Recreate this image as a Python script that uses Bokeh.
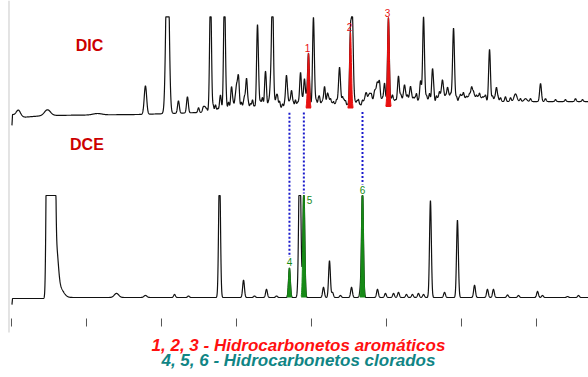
import numpy as np
from bokeh.plotting import figure
from bokeh.models import Range1d, Label
from bokeh.embed import file_html
from bokeh.resources import INLINE

# ---------------- data (retention time in min, height in % of full scale) ----------------
# DIC chromatogram (top)
dic_rt = [8.93, 10.4, 11.13, 11.73, 12.8, 13.27, 13.93, 14.2, 14.67, 15.0, 15.13, 15.67,
          16.4, 16.93, 17.27, 17.4, 17.67, 18.33, 18.67, 19.27, 19.53, 20.13, 20.87,
          21.07, 21.87, 22.73, 23.4, 23.67, 23.93, 24.2, 24.4, 24.53, 24.87, 25.8, 26.2,
          26.6, 27.27, 27.47, 28.07, 28.73, 29.07, 29.47, 30.67, 30.8, 31.87, 32.33, 35.27]
dic_h = [30, 200, 13, 17, 6, 130, 17, 130, 25, 24, 35, 33,
         89, 39, 25, 130, 14, 35, 19, 38, 31, 96, 23,
         16, 43, 92, 8, 14, 12, 16, 21, 26, 25, 32, 22,
         20, 25, 92, 37, 24, 16, 78, 15, 10, 55, 15, 19]
dic_w = [0.08, 0.1] + [0.06] * 45

dic_broad_rt = [0.47, 2.4, 5.73, 33.6, 34.27]
dic_broad_h = [7, 6, 1.5, 8, 3]
dic_broad_w = [0.15, 0.2, 0.3, 0.1, 0.1]

dic_minor_rt = [12.47, 13.0, 13.6, 14.47, 14.8, 15.33, 15.53, 15.93, 16.07, 16.6, 16.73,
                17.13, 17.87, 18.07, 18.53, 18.93, 19.07, 19.67, 20.33, 20.53, 20.67,
                21.27, 21.47, 21.67, 22.07, 22.27, 22.93, 23.13, 23.53, 23.8, 24.07,
                24.33, 24.73, 25.4, 25.6, 26.0, 26.4, 26.8, 27.0, 27.67, 27.87, 28.33,
                28.53, 28.93, 29.27, 29.67, 29.93, 30.13, 30.33, 30.53, 31.0, 31.2,
                31.4, 31.6, 32.07, 32.6, 32.93, 33.27, 33.93, 34.6, 35.6, 36.27, 36.93,
                37.6, 38.07]
dic_minor_h = [5, 4, 7, 9, 6, 8, 12, 6, 10, 8, 12,
               7, 8, 5, 7, 9, 6, 10, 8, 12, 6,
               10, 7, 9, 12, 8, 6, 9, 7, 10, 6,
               9, 8, 12, 7, 9, 11, 8, 12, 9, 11, 8,
               12, 7, 9, 6, 8, 10, 6, 8, 7, 9,
               5, 7, 6, 4, 5, 4, 3, 3, 3, 2, 2,
               3, 2]

# low-level "grass" between the main DIC peaks
dic_grass_rt = [12.9, 13.45, 13.75, 14.33, 14.9, 15.45, 15.8, 16.2, 16.5, 17.0, 17.55,
                17.75, 18.2, 18.43, 18.8, 19.15, 19.4, 19.93, 20.25, 20.45, 20.75, 21.17,
                21.37, 21.57, 21.77, 21.97, 22.17, 22.4, 22.85, 23.03, 23.25, 23.6, 23.87,
                24.0, 24.27, 24.65, 25.0, 25.3, 25.5, 25.7, 25.93, 26.1, 26.3, 26.5, 26.7,
                26.9, 27.13, 27.57, 27.77, 28.17, 28.43, 28.63, 28.83, 29.17, 29.37,
                29.57, 29.83, 30.03, 30.23, 30.43, 30.9, 31.1, 31.3, 31.5, 32.2, 32.45]
dic_grass_h = [4, 6, 3, 5, 7, 4, 5, 3, 6, 4, 5,
               7, 4, 6, 5, 3, 6, 5, 4, 7, 5, 6,
               4, 3, 6, 5, 7, 4, 5, 6, 3, 5, 4,
               6, 5, 4, 3, 6, 5, 4, 7, 5, 6, 4, 5,
               6, 4, 5, 3, 6, 4, 5, 6, 4, 5,
               3, 4, 5, 3, 4, 3, 4, 3, 4, 3, 3]

dic_base_t = [0.03, 0.07, 0.6, 2.27, 8.6, 12.6, 15.93, 19.27, 22.6, 25.93, 29.27, 32.6, 38.5]
dic_base_lvl = [-8.4, 3.0, 0.0, 2.1, 3.2, 5.3, 8.4, 9.5, 9.5, 11.6, 15.8, 16.8, 16.8]

# aromatic hydrocarbons (peaks 1, 2, 3) in DIC
arom_labels = ["1", "2", "3"]
arom_rt = [19.8, 22.6, 25.13]
arom_h = [58, 80, 94]

# DCE chromatogram (bottom)
dce_rt = [10.87, 11.8, 13.87, 15.47, 16.2, 17.0, 17.67, 19.22, 20.8, 21.2, 21.4, 21.93,
          22.67, 23.27, 24.4, 24.93, 25.47, 25.8, 26.33, 26.73, 27.13, 27.47, 27.93,
          28.87, 29.73, 30.87, 31.73, 32.13, 33.07, 33.8, 35.07, 35.4, 37.07, 37.8]
dce_h = [3, 1.5, 130, 17, 1.5, 8, 1.5, 150, 10, 36, 5, 2,
         10, 8, 8, 4, 4, 5, 3, 3, 4, 3, 95,
         5, 76, 12, 8, 8, 2.5, 2, 6, 2, 1, 2]
dce_w = [0.06] * 7 + [0.07] + [0.06] * 26

dce_broad_rt = [2.37, 2.5, 2.63, 2.77, 2.87, 3.0, 3.2, 7.0, 8.93]
dce_broad_h = [200, 200, 200, 200, 200, 40, 10, 4, 2]
dce_broad_w = [0.06, 0.06, 0.06, 0.06, 0.06, 0.12, 0.25, 0.15, 0.1]

dce_base_t = [0.03, 0.07, 2.2, 3.6, 38.5]
dce_base_lvl = [-7.0, -1.0, -1.0, 0.0, 0.0]

# chlorinated hydrocarbons (peaks 4, 5, 6) in DCE
chlor_labels = ["4", "5", "6"]
chlor_rt = [18.53, 19.49, 23.4]
chlor_h = [29, 110, 110]

time_ticks = [0, 5, 10, 15, 20, 25, 30, 35]

# ---------------- layout / scaling ----------------
W, H = 588, 377
DIC_Y0, DIC_K, DIC_CLIP = 260, 0.95, 106
DCE_Y0, DCE_K, DCE_CLIP = 80, 1.02, 100

t = np.arange(0.03, 38.5, 0.01)


def gauss_sum(rts, hs, ws):
    out = np.zeros_like(t)
    for r, h, w in zip(rts, hs, ws):
        out += h * np.exp(-0.5 * ((t - r) / w) ** 2)
    return out


dic_base = np.interp(t, dic_base_t, dic_base_lvl)
dic_arom = [gauss_sum([r], [h], [0.06]) for r, h in zip(arom_rt, arom_h)]
dic_sig = (dic_base + gauss_sum(dic_rt, dic_h, dic_w)
           + gauss_sum(dic_broad_rt, dic_broad_h, dic_broad_w)
           + gauss_sum(dic_minor_rt, dic_minor_h, [0.05] * len(dic_minor_rt))
           + gauss_sum(dic_grass_rt, dic_grass_h, [0.04] * len(dic_grass_rt))
           + sum(dic_arom))
dic_y = DIC_Y0 + DIC_K * np.minimum(dic_sig, DIC_CLIP)

dce_base = np.interp(t, dce_base_t, dce_base_lvl)
dce_chl = [gauss_sum([r], [h], [0.06]) for r, h in zip(chlor_rt, chlor_h)]
dce_sig = (dce_base + gauss_sum(dce_rt, dce_h, dce_w)
           + gauss_sum(dce_broad_rt, dce_broad_h, dce_broad_w) + sum(dce_chl))
dce_y = DCE_Y0 + DCE_K * np.minimum(dce_sig, DCE_CLIP)

p = figure(width=W, height=H, output_backend="svg", toolbar_location=None,
           x_range=Range1d(-0.733, 38.467), y_range=Range1d(0, H),
           x_axis_location=None, y_axis_location=None, min_border=0)
p.grid.visible = False
p.outline_line_color = None
p.background_fill_color = "white"

# left rule and time ticks
p.segment(x0=[-0.167], y0=[45], x1=[-0.167], y1=[H], line_color="#c8c8c8", line_width=1)
p.segment(x0=time_ticks, y0=[51] * len(time_ticks), x1=time_ticks, y1=[59] * len(time_ticks),
          line_color="#555555", line_width=1)

# traces
p.line(t, dic_y, line_color="#111111", line_width=1.2)
p.line(t, dce_y, line_color="#111111", line_width=1.2)

RED = "#e81010"
GREEN = "#168a16"
# aromatic peaks (red)
for lab, r, h, own in zip(arom_labels, arom_rt, arom_h, dic_arom):
    m = own > 0.8
    lo = DIC_Y0 + DIC_K * dic_base[m]
    hi = DIC_Y0 + DIC_K * np.minimum(dic_base[m] + own[m], DIC_CLIP)
    p.varea(x=t[m], y1=lo, y2=hi, fill_color=RED)
    p.line(t[m], hi, line_color=RED, line_width=1)
    top = DIC_Y0 + DIC_K * (np.interp(r, dic_base_t, dic_base_lvl) + h)
    p.add_layout(Label(x=r, y=top, text=lab, text_color=RED, text_font_size="10px",
                       text_font="Liberation Sans", text_align="center",
                       text_baseline="bottom", x_offset=-1, y_offset=1))

# chlorinated peaks (green) + dotted guides
for lab, r, h, own in zip(chlor_labels, chlor_rt, chlor_h, dce_chl):
    m = own > 0.8
    lo = DCE_Y0 + DCE_K * dce_base[m]
    hi = DCE_Y0 + DCE_K * np.minimum(dce_base[m] + own[m], DCE_CLIP)
    p.varea(x=t[m], y1=lo, y2=hi, fill_color=GREEN)
    p.line(t[m], hi, line_color=GREEN, line_width=1)
    top = DCE_Y0 + DCE_K * min(np.interp(r, dce_base_t, dce_base_lvl) + h, DCE_CLIP)
    side = lab == "5"
    p.add_layout(Label(x=r, y=top, text=lab, text_color=GREEN, text_font_size="10px",
                       text_font="Liberation Sans",
                       text_align="left" if side else "center",
                       text_baseline="top" if side else "bottom",
                       x_offset=3 if side else 0, y_offset=0 if side else 2))
    y_start = DIC_Y0 + DIC_K * np.interp(r, dic_base_t, dic_base_lvl) - 4
    y_end = top + (2 if side else 11)
    p.segment(x0=[r], y0=[y_start], x1=[r], y1=[y_end], line_color="#1a1acc",
              line_width=2, line_dash="2 2")

# trace titles
for txt, x, y in [("DIC", 5.2, 332), ("DCE", 5.03, 233)]:
    p.add_layout(Label(x=x, y=y, text=txt, text_color="#cc0000", text_font_size="16px",
                       text_font="Liberation Sans", text_font_style="bold",
                       text_align="center", text_baseline="middle"))

# legend lines
p.add_layout(Label(x=19.13, y=32, text="1, 2, 3 - Hidrocarbonetos aromáticos",
                   text_color="#ff1010", text_font_size="17px", text_font="Liberation Sans",
                   text_font_style="bold italic", text_align="center", text_baseline="middle"))
p.add_layout(Label(x=19.13, y=17, text="4, 5, 6 - Hidrocarbonetos clorados",
                   text_color="#108585", text_font_size="17px", text_font="Liberation Sans",
                   text_font_style="bold italic", text_align="center", text_baseline="middle"))

open("out.html", "w").write(file_html(p, INLINE))
